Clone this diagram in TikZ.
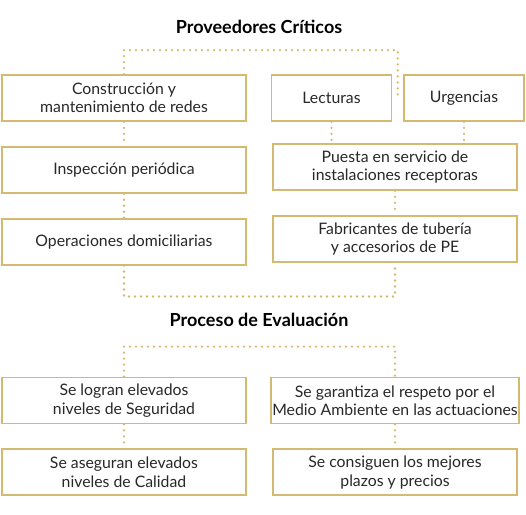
\documentclass[tikz,border=0pt]{standalone}
\usepackage{fontspec}
\setmainfont{Lato}
\usepackage{xcolor}
\usepackage{tikz}
\usetikzlibrary{shapes,positioning,calc}
\definecolor{gold}{RGB}{212,186,112}
\definecolor{ink}{RGB}{40,40,40}

\begin{document}
\begin{tikzpicture}[
    x=1pt, y=-1pt,
    node distance=24pt,
    title/.style={font=\bfseries\fontsize{18}{21}\selectfont, text=black},
    box/.style={rectangle, draw=gold, line width=1.8pt, fill=white, minimum width=244pt, minimum height=46pt, inner sep=1pt, align=center, text=ink, font=\fontsize{15.8}{18.5}\selectfont},
    smallbox/.style={box, minimum width=120pt},
    link/.style={draw=gold, line width=2.6pt, line cap=round, dash pattern=on 0pt off 6pt}
]
\useasboundingbox (0,0) rectangle (526,514);

% Proveedores
\node[title] (prov title) at (259,27) {Proveedores Críticos};
\node[box] (cons) at (124,98) {Construcción y\\mantenimiento de redes};
\node[smallbox] (lect) at (331.5,98) {Lecturas};
\node[smallbox] (urg) at (464,98) {Urgencias};
\node[box, below=of cons] (insp) {Inspección periódica};
\node[box] (puesta) at (395,167) {Puesta en servicio de\\instalaciones receptoras};
\node[box, below=of insp] (oper) {Operaciones domiciliarias};
\node[box, below=of puesta] (fab) {Fabricantes de tubería\\y accesorios de PE};
\coordinate (prov end) at ($(lect.east)!0.5!(urg.west)$);

% Evaluacion
\node[title] (eval title) at (259,320) {Proceso de Evaluación};
\node[box] (seg) at (124,400.5) {Se logran elevados\\niveles de Seguridad};
\node[box] (amb) at (395,400.5) {Se garantiza el respeto por el\\Medio Ambiente en las actuaciones};
\node[box, below=of seg] (cal) {Se aseguran elevados\\niveles de Calidad};
\node[box, below=of amb] (plazo) {Se consiguen los mejores\\plazos y precios};

% Connections
\draw[link] (cons.north) -- ++(0,-24) -| (prov end);
\draw[link] (cons) -- (insp);
\draw[link] (insp) -- (oper);
\draw[link] (lect.south) -- (lect.south |- puesta.north);
\draw[link] (urg.south) -- (urg.south |- puesta.north);
\draw[link] (puesta) -- (fab);
\draw[link] (oper.south) -- ++(0,31) -| (fab.south);
\draw[link] (seg.north) -- ++(0,-30) -| (amb.north);
\draw[link] (seg) -- (cal);
\draw[link] (amb) -- (plazo);

\end{tikzpicture}
\end{document}
